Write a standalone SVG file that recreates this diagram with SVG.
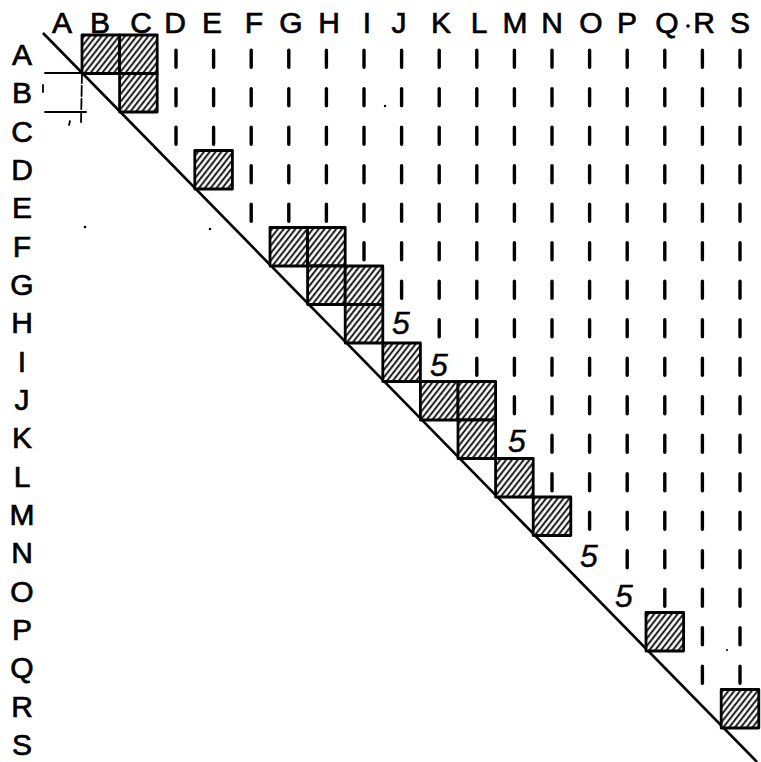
<svg xmlns="http://www.w3.org/2000/svg" width="761" height="762" viewBox="0 0 761 762">
<style>
.lbl{font-family:"Liberation Sans",Arial,sans-serif;font-size:30px;fill:#000;stroke:#000;stroke-width:0.7;text-anchor:middle}
.five{font-family:"Liberation Sans",Arial,sans-serif;font-size:32px;font-style:italic;fill:#000;stroke:#000;stroke-width:0.4;text-anchor:middle}
.box{fill:url(#hatch);stroke:#000;stroke-width:2.8;stroke-linejoin:round}
.tick{stroke:#000;stroke-width:3.4;stroke-linecap:round;fill:none}
.thin{stroke:#000;stroke-width:1.8;fill:none;stroke-linecap:round}
.diag{stroke:#000;stroke-width:2.6;fill:none}
</style>
<defs>
<pattern id="hatch" width="4.6" height="10" patternUnits="userSpaceOnUse" patternTransform="rotate(38)">
<rect width="4.6" height="10" fill="#fff"/>
<line x1="1.2" y1="0" x2="1.2" y2="10" stroke="#000" stroke-width="1.8"/>
</pattern>
</defs>
<rect width="761" height="762" fill="#fff"/>
<g id="column-labels">
<text class="lbl" x="62" y="33">A</text>
<text class="lbl" x="100" y="33">B</text>
<text class="lbl" x="141" y="33">C</text>
<text class="lbl" x="175" y="33">D</text>
<text class="lbl" x="212" y="33">E</text>
<text class="lbl" x="254" y="33">F</text>
<text class="lbl" x="291" y="33">G</text>
<text class="lbl" x="329" y="33">H</text>
<text class="lbl" x="367" y="33">I</text>
<text class="lbl" x="399" y="33">J</text>
<text class="lbl" x="441" y="33">K</text>
<text class="lbl" x="479" y="33">L</text>
<text class="lbl" x="515" y="33">M</text>
<text class="lbl" x="552" y="33">N</text>
<text class="lbl" x="591" y="33">O</text>
<text class="lbl" x="627" y="33">P</text>
<text class="lbl" x="667" y="33">Q</text>
<text class="lbl" x="704" y="33">R</text>
<text class="lbl" x="740" y="33">S</text>
<circle cx="688" cy="26" r="1.8" fill="#000"/>
</g>
<g id="row-labels">
<text class="lbl" x="22" y="65">A</text>
<text class="lbl" x="22" y="103">B</text>
<text class="lbl" x="22" y="142">C</text>
<text class="lbl" x="22" y="180">D</text>
<text class="lbl" x="22" y="218">E</text>
<text class="lbl" x="22" y="257">F</text>
<text class="lbl" x="22" y="295">G</text>
<text class="lbl" x="22" y="333">H</text>
<text class="lbl" x="22" y="372">I</text>
<text class="lbl" x="22" y="410">J</text>
<text class="lbl" x="22" y="448">K</text>
<text class="lbl" x="22" y="487">L</text>
<text class="lbl" x="22" y="525">M</text>
<text class="lbl" x="22" y="563">N</text>
<text class="lbl" x="22" y="602">O</text>
<text class="lbl" x="22" y="640">P</text>
<text class="lbl" x="22" y="678">Q</text>
<text class="lbl" x="22" y="717">R</text>
<text class="lbl" x="22" y="755">S</text>
</g>
<g id="diagonal">
<line class="diag" x1="43" y1="33" x2="757" y2="762"/>
</g>
<g id="cell-marker">
<line class="thin" x1="45" y1="73" x2="83" y2="73"/>
<line class="thin" x1="45" y1="112" x2="86" y2="112"/>
<line class="thin" x1="82" y1="73" x2="81" y2="124" stroke-dasharray="10 3"/>
<line class="thin" x1="43" y1="85" x2="43" y2="92"/>
<line class="thin" x1="70" y1="121" x2="69" y2="125"/>
</g>
<g id="boxes">
<rect class="box" x="82" y="35" width="37.6" height="38.5"/>
<rect class="box" x="119.6" y="35" width="37.6" height="38.5"/>
<rect class="box" x="119.6" y="73.5" width="37.6" height="38.5"/>
<rect class="box" x="194.8" y="150.5" width="37.6" height="38.5"/>
<rect class="box" x="270" y="227.5" width="37.6" height="38.5"/>
<rect class="box" x="307.6" y="227.5" width="37.6" height="38.5"/>
<rect class="box" x="307.6" y="266" width="37.6" height="38.5"/>
<rect class="box" x="345.2" y="266" width="37.6" height="38.5"/>
<rect class="box" x="345.2" y="304.5" width="37.6" height="38.5"/>
<rect class="box" x="382.8" y="343" width="37.6" height="38.5"/>
<rect class="box" x="420.4" y="381.5" width="37.6" height="38.5"/>
<rect class="box" x="458" y="381.5" width="37.6" height="38.5"/>
<rect class="box" x="458" y="420" width="37.6" height="38.5"/>
<rect class="box" x="495.6" y="458.5" width="37.6" height="38.5"/>
<rect class="box" x="533.2" y="497" width="37.6" height="38.5"/>
<rect class="box" x="646" y="612.5" width="37.6" height="38.5"/>
<rect class="box" x="721.2" y="689.5" width="37.6" height="38.5"/>
</g>
<g id="fives">
<text class="five" x="401" y="334">5</text>
<text class="five" x="439" y="376">5</text>
<text class="five" x="517" y="452">5</text>
<text class="five" x="589" y="567">5</text>
<text class="five" x="624" y="607">5</text>
</g>
<g id="ticks">
<path class="tick" d="M176 50.3v17M213.6 50.3v17M251.2 50.3v17M288.8 50.3v17M326.4 50.3v17M364 50.3v17M401.6 50.3v17M439.2 50.3v17M476.8 50.3v17M514.4 50.3v17M552 50.3v17M589.6 50.3v17M627.2 50.3v17M664.8 50.3v17M702.4 50.3v17M740 50.3v17"/>
<path class="tick" d="M176 88.8v17M213.6 88.8v17M251.2 88.8v17M288.8 88.8v17M326.4 88.8v17M364 88.8v17M401.6 88.8v17M439.2 88.8v17M476.8 88.8v17M514.4 88.8v17M552 88.8v17M589.6 88.8v17M627.2 88.8v17M664.8 88.8v17M702.4 88.8v17M740 88.8v17"/>
<path class="tick" d="M176 127.3v17M213.6 127.3v17M251.2 127.3v17M288.8 127.3v17M326.4 127.3v17M364 127.3v17M401.6 127.3v17M439.2 127.3v17M476.8 127.3v17M514.4 127.3v17M552 127.3v17M589.6 127.3v17M627.2 127.3v17M664.8 127.3v17M702.4 127.3v17M740 127.3v17"/>
<path class="tick" d="M251.2 165.8v17M288.8 165.8v17M326.4 165.8v17M364 165.8v17M401.6 165.8v17M439.2 165.8v17M476.8 165.8v17M514.4 165.8v17M552 165.8v17M589.6 165.8v17M627.2 165.8v17M664.8 165.8v17M702.4 165.8v17M740 165.8v17"/>
<path class="tick" d="M251.2 204.3v17M288.8 204.3v17M326.4 204.3v17M364 204.3v17M401.6 204.3v17M439.2 204.3v17M476.8 204.3v17M514.4 204.3v17M552 204.3v17M589.6 204.3v17M627.2 204.3v17M664.8 204.3v17M702.4 204.3v17M740 204.3v17"/>
<path class="tick" d="M364 242.8v17M401.6 242.8v17M439.2 242.8v17M476.8 242.8v17M514.4 242.8v17M552 242.8v17M589.6 242.8v17M627.2 242.8v17M664.8 242.8v17M702.4 242.8v17M740 242.8v17"/>
<path class="tick" d="M401.6 281.3v17M439.2 281.3v17M476.8 281.3v17M514.4 281.3v17M552 281.3v17M589.6 281.3v17M627.2 281.3v17M664.8 281.3v17M702.4 281.3v17M740 281.3v17"/>
<path class="tick" d="M439.2 319.8v17M476.8 319.8v17M514.4 319.8v17M552 319.8v17M589.6 319.8v17M627.2 319.8v17M664.8 319.8v17M702.4 319.8v17M740 319.8v17"/>
<path class="tick" d="M476.8 358.3v17M514.4 358.3v17M552 358.3v17M589.6 358.3v17M627.2 358.3v17M664.8 358.3v17M702.4 358.3v17M740 358.3v17"/>
<path class="tick" d="M514.4 396.8v17M552 396.8v17M589.6 396.8v17M627.2 396.8v17M664.8 396.8v17M702.4 396.8v17M740 396.8v17"/>
<path class="tick" d="M552 435.3v17M589.6 435.3v17M627.2 435.3v17M664.8 435.3v17M702.4 435.3v17M740 435.3v17"/>
<path class="tick" d="M552 473.8v17M589.6 473.8v17M627.2 473.8v17M664.8 473.8v17M702.4 473.8v17M740 473.8v17"/>
<path class="tick" d="M589.6 512.3v17M627.2 512.3v17M664.8 512.3v17M702.4 512.3v17M740 512.3v17"/>
<path class="tick" d="M627.2 550.8v17M664.8 550.8v17M702.4 550.8v17M740 550.8v17"/>
<path class="tick" d="M664.8 589.3v17M702.4 589.3v17M740 589.3v17"/>
<path class="tick" d="M702.4 627.8v17M740 627.8v17"/>
<path class="tick" d="M702.4 666.3v17M740 666.3v17"/>
</g>
<g id="specks" fill="#000">
<circle cx="385" cy="106" r="1.2"/>
<circle cx="85" cy="227" r="1.3"/>
<circle cx="210" cy="229" r="1.3"/>
<circle cx="727" cy="650" r="1"/>
</g>
</svg>
